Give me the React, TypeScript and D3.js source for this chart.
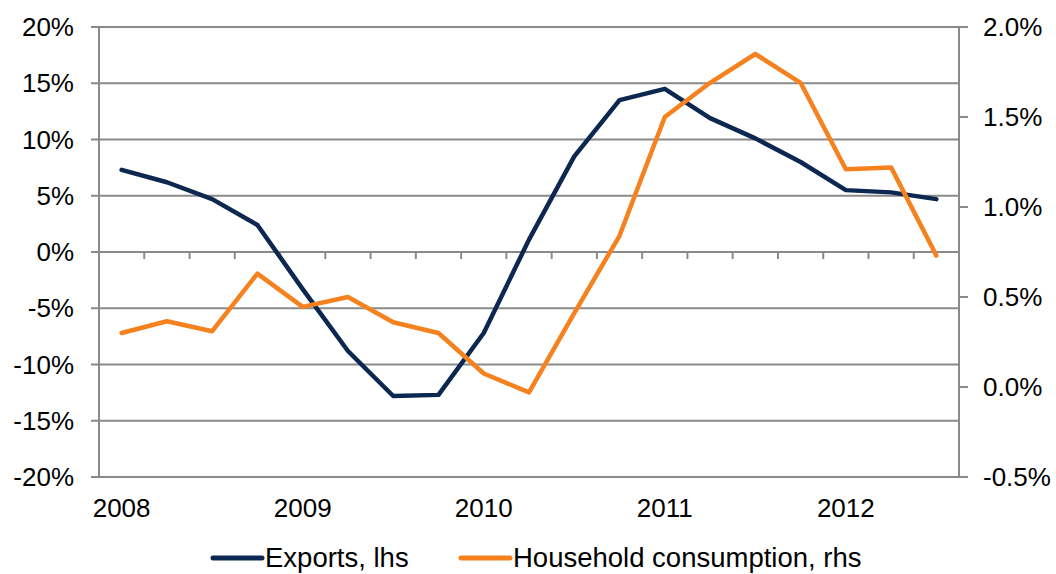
import React from 'react';
import * as d3 from 'd3';

const quarters = [
  '2008Q1', '2008Q2', '2008Q3', '2008Q4',
  '2009Q1', '2009Q2', '2009Q3', '2009Q4',
  '2010Q1', '2010Q2', '2010Q3', '2010Q4',
  '2011Q1', '2011Q2', '2011Q3', '2011Q4',
  '2012Q1', '2012Q2', '2012Q3',
];
const exportsLhs = [7.3, 6.2, 4.7, 2.4, -3.3, -8.8, -12.8, -12.7, -7.2, 1.1, 8.5, 13.5, 14.5, 11.9, 10.1, 8.0, 5.5, 5.3, 4.7];
const consumptionRhs = [0.3, 0.365, 0.31, 0.63, 0.445, 0.5, 0.36, 0.3, 0.075, -0.03, 0.41, 0.84, 1.5, 1.69, 1.85, 1.69, 1.21, 1.22, 0.73];
const leftTicks = [-20, -15, -10, -5, 0, 5, 10, 15, 20];
const rightTicks = [-0.5, 0, 0.5, 1.0, 1.5, 2.0];
const yearLabels = ['2008', '2009', '2010', '2011', '2012'];

const W = 1056, H = 574;
const left = 99, right = 959, top = 27, bottom = 477;
const gridColor = '#8a8a8a';
const navy = '#0c2750';
const orange = '#f5821f';
const font = 'Liberation Sans, Arial, sans-serif';

export default function App() {
  const x = d3.scaleBand<string>().domain(quarters).range([left, right]);
  const cx = (q: string) => (x(q) as number) + x.bandwidth() / 2;
  const yL = d3.scaleLinear().domain([-20, 20]).range([bottom, top]);
  const yR = d3.scaleLinear().domain([-0.5, 2.0]).range([bottom, top]);

  const lineL = d3.line<number>().x((_, i) => cx(quarters[i])).y((d) => yL(d));
  const lineR = d3.line<number>().x((_, i) => cx(quarters[i])).y((d) => yR(d));

  const boundaries = d3.range(quarters.length + 1).map((i) => left + i * x.step());

  return (
    <svg width={W} height={H} style={{ position: 'absolute', left: 0, top: 0 }} fontFamily={font}>
      {/* horizontal gridlines with left ticks */}
      {leftTicks.map((t) => (
        <line key={t} x1={left - 8} x2={right} y1={yL(t)} y2={yL(t)} stroke={gridColor} strokeWidth={2} />
      ))}
      {leftTicks.map((t) => (
        <text key={'l' + t} x={74} y={yL(t)} dy="0.35em" textAnchor="end" fontSize={26} fill="#000">
          {t + '%'}
        </text>
      ))}
      {/* axes */}
      <line x1={left} x2={left} y1={top} y2={bottom} stroke={gridColor} strokeWidth={2} />
      <line x1={right} x2={right} y1={top} y2={bottom} stroke={gridColor} strokeWidth={2} />
      {rightTicks.map((t) => (
        <g key={'r' + t}>
          <line x1={right} x2={right + 9} y1={yR(t)} y2={yR(t)} stroke={gridColor} strokeWidth={2} />
          <text x={983} y={yR(t)} dy="0.35em" fontSize={26} fill="#000">
            {t.toFixed(1) + '%'}
          </text>
        </g>
      ))}
      {/* category ticks on zero line */}
      {boundaries.map((b, i) => (
        <line key={'c' + i} x1={b} x2={b} y1={yL(0)} y2={yL(0) + 7} stroke={gridColor} strokeWidth={2} />
      ))}
      {yearLabels.map((yr) => (
        <text key={yr} x={cx(yr + 'Q1')} y={517} textAnchor="middle" fontSize={26} fill="#000">
          {yr}
        </text>
      ))}
      {/* series */}
      <path d={lineL(exportsLhs) || ''} fill="none" stroke={navy} strokeWidth={4.5} strokeLinejoin="round" strokeLinecap="round" />
      <path d={lineR(consumptionRhs) || ''} fill="none" stroke={orange} strokeWidth={4.5} strokeLinejoin="round" strokeLinecap="round" />
      {/* legend */}
      <line x1={213} x2={262} y1={558} y2={558} stroke={navy} strokeWidth={5} strokeLinecap="round" />
      <text x={265} y={567} fontSize={27.5} fill="#000">Exports, lhs</text>
      <line x1={461} x2={510} y1={558} y2={558} stroke={orange} strokeWidth={5} strokeLinecap="round" />
      <text x={513} y={567} fontSize={27.5} fill="#000">Household consumption, rhs</text>
    </svg>
  );
}
